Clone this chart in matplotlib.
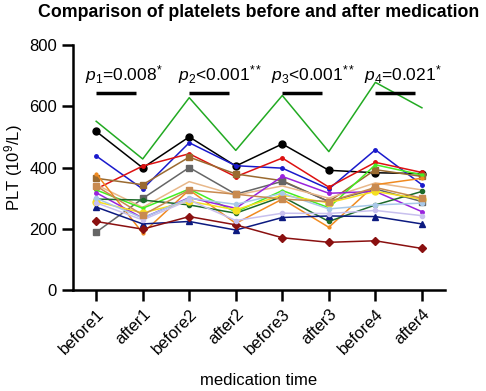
import numpy as np
import matplotlib
matplotlib.use('Agg')
import matplotlib.pyplot as plt

plt.rcParams['font.family'] = ['Liberation Sans', 'DejaVu Sans']
plt.rcParams['mathtext.fontset'] = 'custom'
plt.rcParams['mathtext.rm'] = 'Liberation Sans'
plt.rcParams['mathtext.it'] = 'Liberation Sans:italic'

timepoints = ['before1', 'after1', 'before2', 'after2',
              'before3', 'after3', 'before4', 'after4']

# one list per patient, PLT (10^9/L)
green = [551, 428, 628, 456, 635, 452, 678, 595]
black = [518, 399, 500, 405, 477, 391, 383, 380]
blue = [438, 330, 481, 406, 398, 330, 458, 344]
red = [330, 405, 445, 370, 431, 336, 417, 384]
brown = [365, 344, 434, 379, 357, 289, 393, 371]
gray = [189, 299, 400, 313, 355, 289, 330, 289]
tan = [344, 270, 354, 310, 340, 300, 350, 327]
lime = [327, 267, 330, 255, 325, 269, 409, 376]
orange = [380, 186, 327, 218, 297, 205, 344, 365]
purple = [318, 235, 302, 267, 371, 316, 322, 256]
darkgreen = [297, 294, 278, 251, 305, 224, 278, 322]
yellow = [289, 252, 290, 262, 310, 285, 322, 297]
navy = [271, 216, 224, 196, 237, 242, 240, 216]
darkred = [224, 199, 240, 213, 171, 156, 161, 136]
lightblue = [300, 235, 300, 280, 316, 265, 278, 284]
lavender = [285, 229, 294, 227, 251, 250, 260, 243]
peru = [340, 245, 327, 313, 297, 289, 335, 300]

series = [
    (green, '#22aa22', None, 0),
    (black, 'black', 'o', 5),
    (blue, '#1a1acc', 'o', 2.5),
    (red, '#dd1111', 'o', 2.5),
    (brown, '#9a6a30', 's', 5),
    (gray, '#666666', 's', 5),
    (tan, '#e8b88a', None, 0),
    (lime, '#44ee22', 'o', 2),
    (orange, '#f08a20', 'o', 2),
    (purple, '#9922dd', 'o', 2.5),
    (darkgreen, '#1c6a2a', 'o', 3),
    (yellow, '#f5e020', 'o', 5),
    (navy, '#0c1a80', '^', 5),
    (darkred, '#8a1010', 'D', 4),
    (lightblue, '#a8c8e8', 'o', 3),
    (lavender, '#c8c0ee', 'o', 3),
    (peru, '#c88a50', 's', 4),
]

p_texts = [r'$\mathit{p}_{1}$=0.008$^{*}$', r'$\mathit{p}_{2}$<0.001$^{**}$',
           r'$\mathit{p}_{3}$<0.001$^{**}$', r'$\mathit{p}_{4}$=0.021$^{*}$']

fig = plt.figure(figsize=(4.86, 3.91), dpi=100)
ax = fig.add_axes([0.150, 0.258, 0.766, 0.627])

x = np.arange(len(timepoints))
for vals, col, mk, ms in series:
    ax.plot(x, vals, color=col, marker=mk, markersize=ms, linewidth=1.1)

for i, txt in enumerate(p_texts):
    x0 = 2 * i
    ax.plot([x0, x0 + 0.85], [643, 643], color='black', linewidth=2.5,
            solid_capstyle='butt')
    ax.text(x0 - 0.25, 702, txt, fontsize=12.5, va='center', ha='left')

ax.set_xlim(-0.5, 7.5)
ax.set_ylim(0, 800)
ax.set_yticks([0, 200, 400, 600, 800])
ax.set_xticks(x)
ax.set_xticklabels(timepoints, rotation=45, ha='right', rotation_mode='anchor')
ax.tick_params(axis='both', labelsize=12, width=1.8, length=8)
for s in ['top', 'right']:
    ax.spines[s].set_visible(False)
for s in ['left', 'bottom']:
    ax.spines[s].set_linewidth(1.8)

ax.set_ylabel(r'PLT (10$^{9}$/L)', fontsize=12, labelpad=3)
ax.set_xlabel('medication time', fontsize=12, labelpad=12)
ax.set_title('Comparison of platelets before and after medication',
             fontsize=12.8, fontweight='bold', pad=20)

fig.savefig('out.png', dpi=100)
